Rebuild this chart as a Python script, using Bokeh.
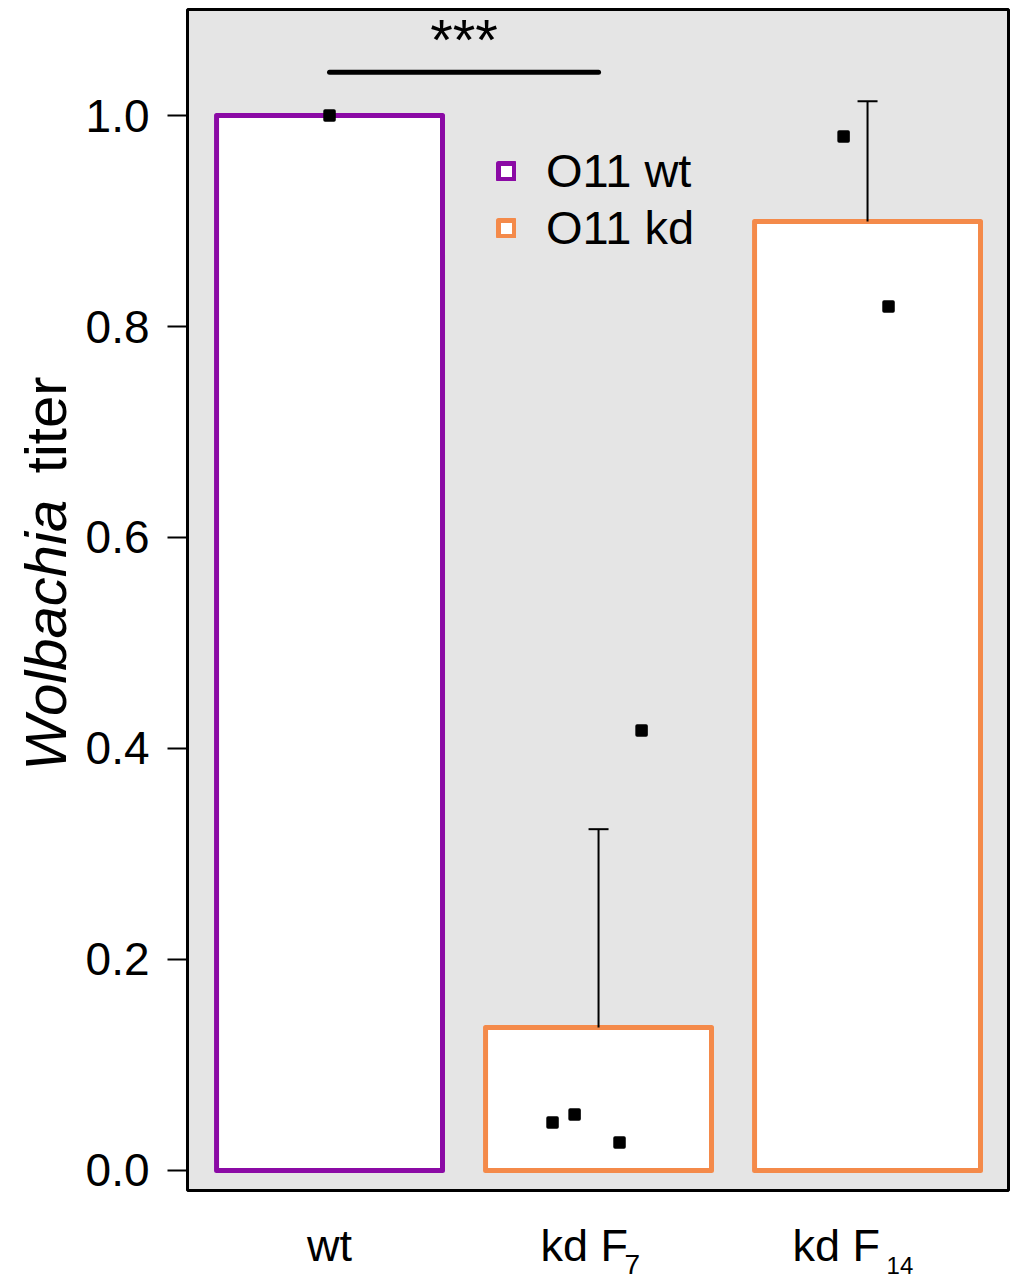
import numpy as np
from bokeh.plotting import figure
from bokeh.layouts import row, column
from bokeh.models import (Range1d, FixedTicker, NumeralTickFormatter, Label, Legend,
                          LegendItem, Whisker, TeeHead, ColumnDataSource)
from bokeh.embed import file_html
from bokeh.resources import INLINE

# ---------------- data ----------------
categories = ["wt", "kd F7", "kd F14"]
cat_main = ["wt", "kd F", "kd F"]
cat_sub = ["", "7", "14"]
bar_group = ["O11 wt", "O11 kd", "O11 kd"]
bar_means = [1.0, 0.1355, 0.8995]
bar_sd = [0.0, 0.188, 0.114]

point_cat = [0, 1, 1, 1, 1, 2, 2]
point_jitter = [0.0, -0.171, -0.089, 0.078, 0.160, -0.089, 0.078]
point_values = [1.0, 0.0455, 0.053, 0.0265, 0.417, 0.980, 0.819]

y_ticks = [0.0, 0.2, 0.4, 0.6, 0.8, 1.0]
sig_pair = [0, 1]
sig_y = 1.041
sig_text = "***"

group_colors = {"O11 wt": "#8B0AA5", "O11 kd": "#F48A4A"}
FONT = "Liberation Sans"

LEFT_W = 80
MAIN_W = 935
MAIN_H = 1200
BOTTOM_H = 79

x_range = Range1d(0.472, 3.524)
y_range = Range1d(-0.019, 1.1005)

# ---------------- main figure ----------------
p = figure(width=MAIN_W, height=MAIN_H, x_range=x_range, y_range=y_range,
           output_backend="svg", toolbar_location=None, x_axis_location=None,
           min_border_left=107, min_border_right=7, min_border_top=9, min_border_bottom=10)
p.background_fill_color = "#E5E5E5"
p.border_fill_color = "white"
p.outline_line_color = "black"
p.outline_line_width = 3
p.grid.visible = False

ya = p.yaxis[0]
ya.ticker = FixedTicker(ticks=y_ticks, minor_ticks=[])
ya.formatter = NumeralTickFormatter(format="0.0")
ya.axis_line_color = None
ya.major_tick_out = 20
ya.major_tick_in = 0
ya.major_tick_line_width = 2
ya.major_tick_line_color = "black"
ya.minor_tick_line_color = None
ya.major_label_standoff = 18
ya.major_label_text_font = FONT
ya.major_label_text_font_size = "46px"
ya.major_label_text_color = "black"

# bars
xs = [i + 1 for i in range(len(categories))]
bar_src = ColumnDataSource(dict(x=xs, top=bar_means,
                                color=[group_colors[g] for g in bar_group]))
bars = p.vbar(x="x", top="top", bottom=0, width=0.84, source=bar_src,
              fill_color="white", line_color="color", line_width=5, line_join="round")

# error bars (mean .. mean+sd) where sd > 0
ex = [x for x, s in zip(xs, bar_sd) if s > 0]
elo = [m for m, s in zip(bar_means, bar_sd) if s > 0]
ehi = [m + s for m, s in zip(bar_means, bar_sd) if s > 0]
err_src = ColumnDataSource(dict(base=ex, lower=elo, upper=ehi))
p.add_layout(Whisker(source=err_src, base="base", lower="lower", upper="upper",
                     line_width=2, line_color="black", lower_head=None,
                     upper_head=TeeHead(size=20, line_width=2, line_color="black"),
                     level="glyph"))

# points
pt_x = [xs[c] + j for c, j in zip(point_cat, point_jitter)]
p.scatter(x=pt_x, y=point_values, marker="square", size=9,
          fill_color="black", line_color="black", line_width=3.5, line_join="round")

# significance
p.line(x=[xs[sig_pair[0]], xs[sig_pair[1]]], y=[sig_y, sig_y],
       line_width=5, line_cap="round", line_color="black")
p.add_layout(Label(x=(xs[sig_pair[0]] + xs[sig_pair[1]]) / 2, y=1.072, text=sig_text,
                   text_align="center", text_baseline="alphabetic",
                   text_font=FONT, text_font_size="58px", text_color="black"))

# legend
legend = Legend(items=[LegendItem(label="O11 wt", renderers=[bars], index=0),
                       LegendItem(label="O11 kd", renderers=[bars], index=1)],
                location=(309, 935), glyph_width=20, glyph_height=20, label_standoff=30,
                label_text_font=FONT, label_text_font_size="47px", label_text_color="black",
                spacing=2, padding=0, margin=0,
                border_line_color=None, background_fill_alpha=0)
p.add_layout(legend)

# ---------------- left strip: y-axis title ----------------
left = figure(width=LEFT_W, height=MAIN_H, x_range=Range1d(0, LEFT_W), y_range=y_range,
              output_backend="svg", toolbar_location=None,
              x_axis_location=None, y_axis_location=None,
              min_border_left=0, min_border_right=0, min_border_top=9, min_border_bottom=10)
left.grid.visible = False
left.outline_line_color = None
left.background_fill_color = "white"
left.border_fill_color = "white"
left.add_layout(Label(x=45, y=0.379, text="Wolbachia", angle=np.pi / 2,
                      text_align="left", text_baseline="alphabetic",
                      text_font=FONT, text_font_style="italic", text_font_size="58px",
                      text_color="black"))
left.add_layout(Label(x=45, y=0.661, text="titer", angle=np.pi / 2,
                      text_align="left", text_baseline="alphabetic",
                      text_font=FONT, text_font_size="58px", text_color="black"))

# ---------------- bottom strip: category labels ----------------
bottom = figure(width=MAIN_W, height=BOTTOM_H, x_range=x_range, y_range=Range1d(BOTTOM_H, 0),
                output_backend="svg", toolbar_location=None,
                x_axis_location=None, y_axis_location=None,
                min_border_left=107, min_border_right=7, min_border_top=0, min_border_bottom=0)
bottom.grid.visible = False
bottom.outline_line_color = None
bottom.background_fill_color = "white"
bottom.border_fill_color = "white"

main_offsets = [0, -58, -75]
sub_offsets = [0, 26, 19]
sub_sizes = ["28px", "28px", "24px"]
sub_base = [0, 64, 65]
for i, x in enumerate(xs):
    if cat_sub[i]:
        bottom.add_layout(Label(x=x, y=45, x_offset=main_offsets[i], text=cat_main[i],
                                text_align="left", text_baseline="alphabetic",
                                text_font=FONT, text_font_size="45px", text_color="black"))
        bottom.add_layout(Label(x=x, y=sub_base[i], x_offset=sub_offsets[i], text=cat_sub[i],
                                text_align="left", text_baseline="alphabetic",
                                text_font=FONT, text_font_size=sub_sizes[i], text_color="black"))
    else:
        bottom.add_layout(Label(x=x, y=45, text=cat_main[i],
                                text_align="center", text_baseline="alphabetic",
                                text_font=FONT, text_font_size="45px", text_color="black"))

layout = row(left, column(p, bottom))
open("out.html", "w").write(file_html(layout, INLINE))
